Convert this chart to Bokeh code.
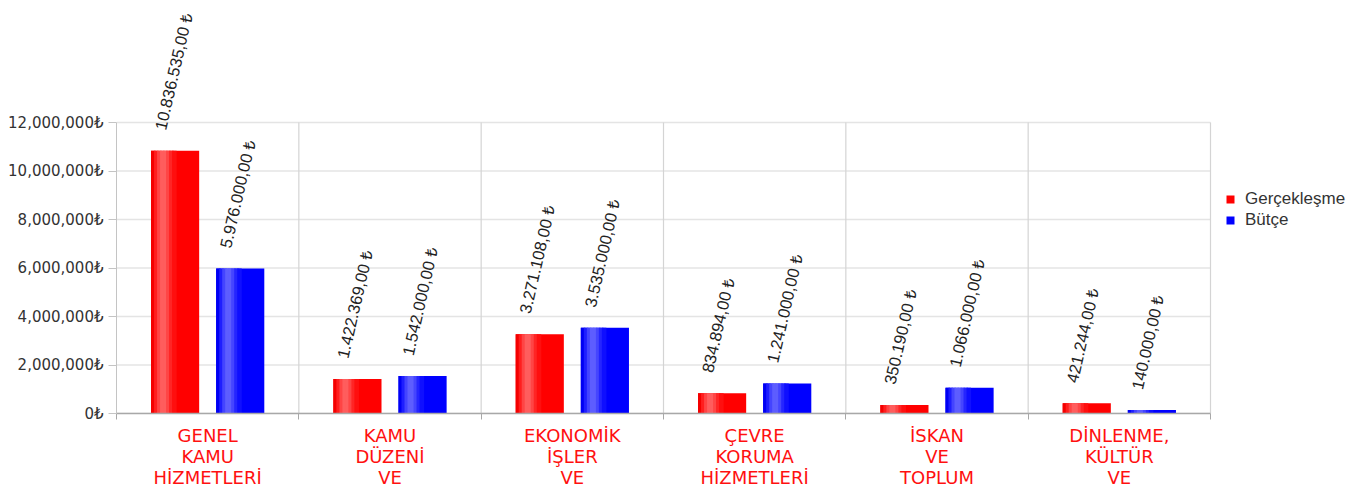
import numpy as np
from bokeh.plotting import figure
from bokeh.models import Range1d, FixedTicker, ColumnDataSource, Legend, LegendItem
from bokeh.transform import dodge
from bokeh.core.properties import value
from bokeh.embed import file_html
from bokeh.resources import INLINE

# ---- data ----
categories = ["GENEL\nKAMU\nHİZMETLERİ", "KAMU\nDÜZENİ\nVE", "EKONOMİK\nİŞLER\nVE",
              "ÇEVRE\nKORUMA\nHİZMETLERİ", "İSKAN\nVE\nTOPLUM", "DİNLENME,\nKÜLTÜR\nVE"]
gerceklesme = [10836535, 1422369, 3271108, 834894, 350190, 421244]
butce = [5976000, 1542000, 3535000, 1241000, 1066000, 140000]
series_names = ["Gerçekleşme", "Bütçe"]
y_ticks = [0, 2000000, 4000000, 6000000, 8000000, 10000000, 12000000]
y_tick_labels = ["0₺", "2,000,000₺", "4,000,000₺", "6,000,000₺", "8,000,000₺",
                 "10,000,000₺", "12,000,000₺"]


def tr_fmt(v):
    s = f"{v:,.2f}"
    s = s.replace(",", "X").replace(".", ",").replace("X", ".")
    return s + " ₺"


n = len(categories)
pos = np.arange(n) + 0.5
source = ColumnDataSource(dict(
    x=pos, g=gerceklesme, b=butce,
    g_lab=[tr_fmt(v) for v in gerceklesme],
    b_lab=[tr_fmt(v) for v in butce],
))

FONT = "Liberation Sans"
OFF = 0.1786
BW = 0.264

FIG_W, FIG_H = 1360, 490
BL, BR, BB = 116, 5, 77
CAT_PX = 1094 / n              # pixel width of one category
FRAME_W = FIG_W - BL - BR
FRAME_H = FIG_H - BB
x_end = FRAME_W / CAT_PX

p = figure(width=FIG_W, height=FIG_H, output_backend="svg", toolbar_location=None,
           x_range=Range1d(0, x_end), y_range=Range1d(0, FRAME_H / 291 * 12e6),
           min_border_left=BL, min_border_right=BR, min_border_top=0,
           min_border_bottom=BB)
p.outline_line_color = None
p.background_fill_color = "white"
p.border_fill_color = "white"

# grids (drawn as segments so that they stop at the chart area)
p.xgrid.visible = False
p.ygrid.visible = False
hsrc = ColumnDataSource(dict(y=y_ticks, x0=[0] * len(y_ticks), x1=[n] * len(y_ticks)))
p.segment(x0="x0", x1="x1", y0="y", y1="y", source=hsrc, line_color="#e4e4e4", line_width=1.3)
vsrc = ColumnDataSource(dict(x=list(range(1, n + 1)), y0=[0] * n, y1=[y_ticks[-1]] * n))
p.segment(x0="x", x1="x", y0="y0", y1="y1", source=vsrc, line_color="#d4d4d4", line_width=1.2)


def shade(base, t):
    # smooth horizontal highlight, strongest around a quarter of the width
    L = 0.38 * np.exp(-((t - 0.25) / 0.16) ** 2) - 0.12 * np.exp(-(t / 0.08) ** 2)
    r, g, b = base
    if L >= 0:
        c = [int(round(ch + (255 - ch) * L)) for ch in (r, g, b)]
    else:
        c = [int(round(ch * (1 + L))) for ch in (r, g, b)]
    return c


renderers = []
for field, off, base, col in (("g", -OFF, (255, 0, 0), "#ff0000"), ("b", OFF, (0, 0, 255), "#0000ff")):
    r = p.vbar(x=dodge("x", off), top=field, bottom=0, width=BW, source=source,
               fill_color=col, line_color=None)
    renderers.append(r)
    N = 16
    sw = BW / N
    for k in range(N):
        t = (k + 0.5) / N
        c = shade(base, t)
        if max(abs(a - b) for a, b in zip(c, base)) < 6:
            continue
        left = off - BW / 2 + k * sw
        w = sw * 1.5 if k < N - 1 else sw
        p.vbar(x=dodge("x", left + w / 2), top=field, bottom=0,
               width=w, source=source, fill_color="#%02x%02x%02x" % tuple(c),
               line_color=None)
    p.text(x=dodge("x", off), y=field, text=field + "_lab", source=source,
           angle=77, angle_units="deg", text_align="left", text_baseline="middle",
           x_offset=-15, y_offset=-21, text_font=value(FONT), text_font_size="16.5px",
           text_color="#222222")

# y axis
p.yaxis.ticker = FixedTicker(ticks=y_ticks)
p.yaxis.major_label_overrides = {t: l for t, l in zip(y_ticks, y_tick_labels)}
p.yaxis.bounds = (0, y_ticks[-1])
p.yaxis.axis_line_color = "#c4c4c4"
p.yaxis.major_tick_line_color = "#c4c4c4"
p.yaxis.major_tick_out = 8
p.yaxis.major_tick_in = 0
p.yaxis.minor_tick_line_color = None
p.yaxis.major_label_standoff = 5
p.yaxis.major_label_text_font = "DejaVu Sans"
p.yaxis.major_label_text_font_size = "15px"
p.yaxis.major_label_text_color = "#333333"

# x axis
p.xaxis.ticker = FixedTicker(ticks=list(pos), minor_ticks=list(range(n + 1)))
p.xaxis.major_label_overrides = {float(x): c for x, c in zip(pos, categories)}
p.xaxis.bounds = (0, n)
p.xaxis.axis_line_color = "#a8a8a8"
p.xaxis.axis_line_width = 1.6
p.xaxis.major_tick_line_color = None
p.xaxis.major_tick_out = 6
p.xaxis.major_tick_in = 0
p.xaxis.minor_tick_line_color = "#a8a8a8"
p.xaxis.minor_tick_out = 6
p.xaxis.minor_tick_in = 0
p.xaxis.major_label_standoff = 5
p.xaxis.major_label_text_font = "DejaVu Sans"
p.xaxis.major_label_text_font_size = "18px"
p.xaxis.major_label_text_line_height = 1.0
p.xaxis.major_label_text_color = "#ff1010"

legend = Legend(items=[LegendItem(label=series_names[0], renderers=[renderers[0]]),
                       LegendItem(label=series_names[1], renderers=[renderers[1]])],
                location=(n * CAT_PX + 15, FRAME_H - 230), border_line_color=None,
                background_fill_alpha=0,
                glyph_width=10, glyph_height=10, label_text_font=FONT,
                label_text_font_size="17px", label_text_color="#333333",
                spacing=0, label_height=21, padding=2, margin=0, label_standoff=10)
p.add_layout(legend)

open("out.html", "w").write(file_html(p, INLINE))
